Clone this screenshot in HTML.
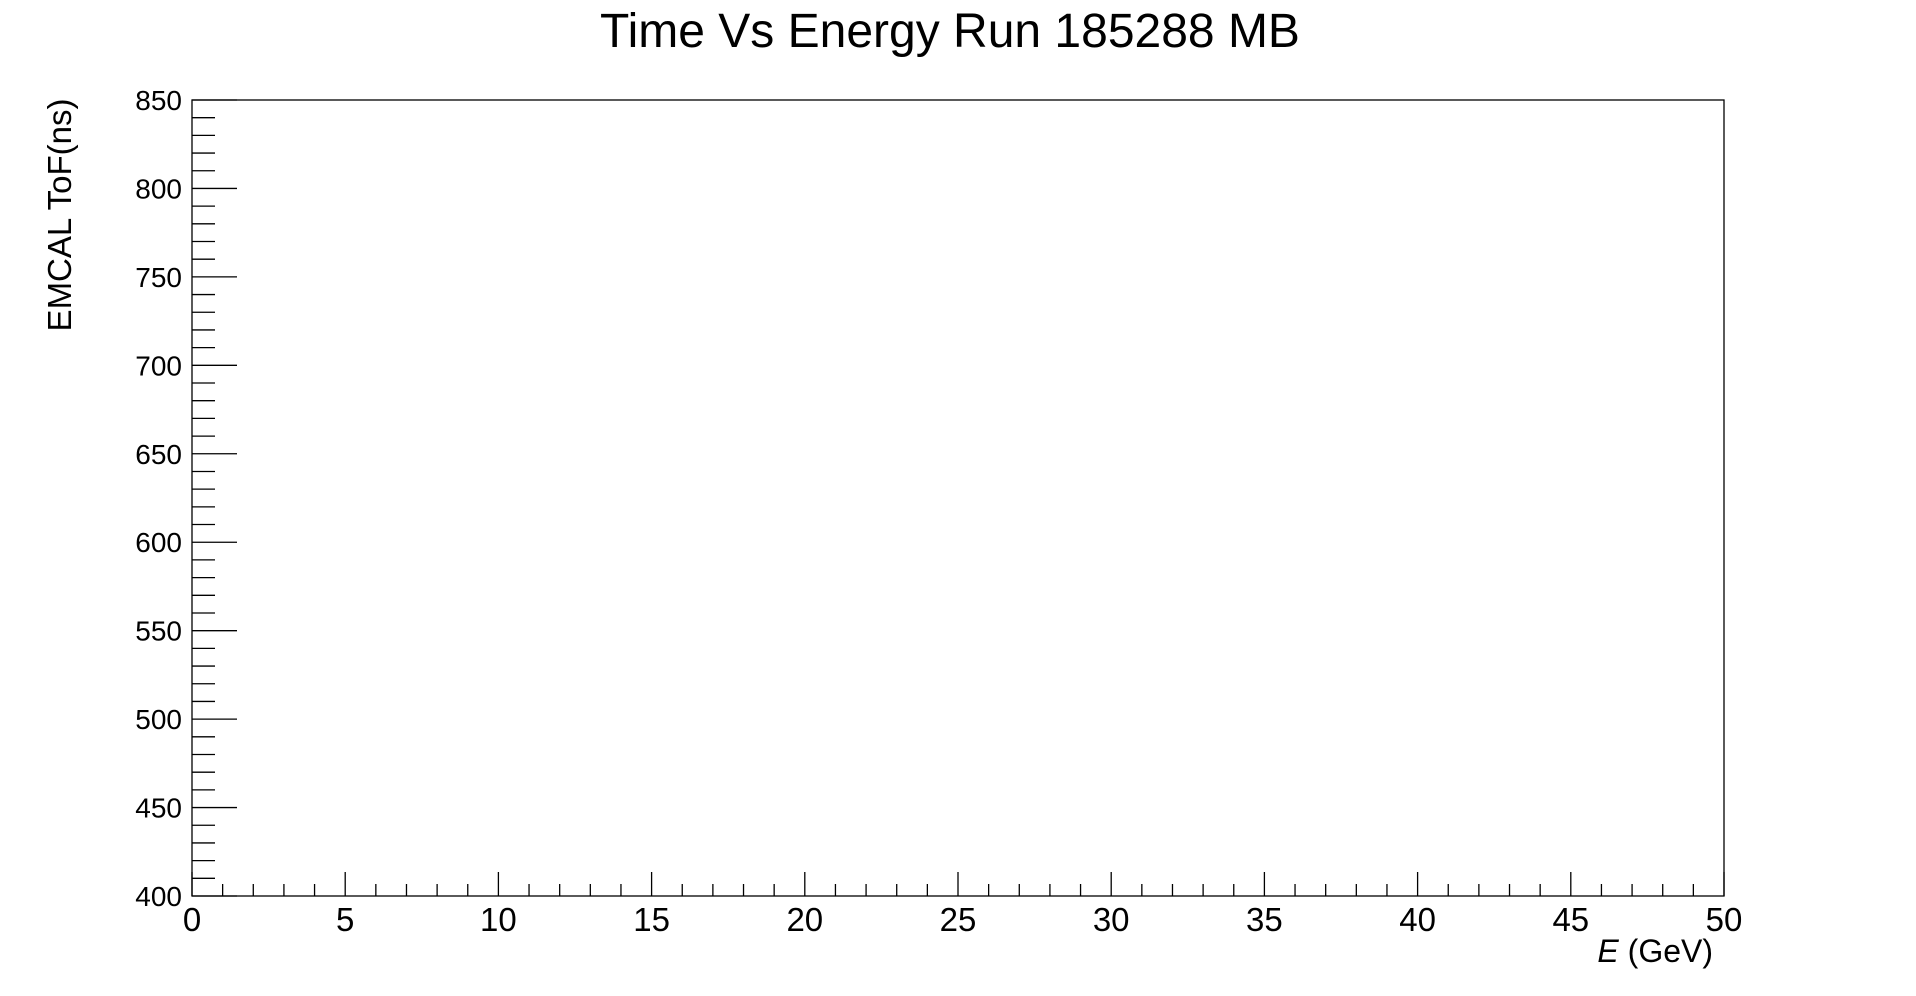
<!DOCTYPE html>
<html><head><meta charset="utf-8"><style>
html,body{margin:0;padding:0;background:#fff;}
svg{display:block;font-family:"Liberation Sans",sans-serif;}
</style></head><body>
<svg id="chart" width="1916" height="996">
<text x="950" y="47" font-size="48" text-anchor="middle">Time Vs Energy Run 185288 MB</text>
<rect x="192" y="100" width="1532" height="796" fill="none" stroke="#000" stroke-width="1.3"/>
<g id="xaxis"></g>
<g id="yaxis"></g>
<text x="1713" y="962" font-size="32" text-anchor="end"><tspan font-style="italic">E</tspan> (GeV)</text>
<text transform="translate(71,215) rotate(-90)" font-size="33" text-anchor="middle">EMCAL ToF(ns)</text>
</svg>
<script>
const xTicks=[0,5,10,15,20,25,30,35,40,45,50];
const yTicks=[400,450,500,550,600,650,700,750,800,850];
const xMin=0,xMax=50,yMin=400,yMax=850;
const L=192,R=1724,T=100,B=896;
const ns="http://www.w3.org/2000/svg";
function sx(v){return L+(v-xMin)/(xMax-xMin)*(R-L);}
function sy(v){return B-(v-yMin)/(yMax-yMin)*(B-T);}
const xg=document.getElementById('xaxis'),yg=document.getElementById('yaxis');
function line(g,x1,y1,x2,y2,name){const l=document.createElementNS(ns,'line');
l.setAttribute('x1',x1);l.setAttribute('y1',y1);l.setAttribute('x2',x2);l.setAttribute('y2',y2);
l.setAttribute('stroke','#000');l.setAttribute('stroke-width','1.3');


g.appendChild(l);}
for(let v=xMin;v<=xMax;v+=1){const major=v%5===0;line(xg,sx(v),B,sx(v),B-(major?24:12),major?'x-major-tick':'x-minor-tick');}
for(let v=yMin;v<=yMax;v+=10){const major=v%50===0;line(yg,L,sy(v),L+(major?45:23),sy(v),major?'y-major-tick':'y-minor-tick');}
xTicks.forEach(v=>{const t=document.createElementNS(ns,'text');t.setAttribute('x',sx(v));t.setAttribute('y',B+35);
t.setAttribute('font-size','33');t.setAttribute('text-anchor','middle');t.textContent=v;


xg.appendChild(t);});
yTicks.forEach(v=>{const t=document.createElementNS(ns,'text');t.setAttribute('x',182);t.setAttribute('y',sy(v)+10);
t.setAttribute('font-size','28');t.setAttribute('text-anchor','end');t.textContent=v;


yg.appendChild(t);});
</script>
</body></html>
